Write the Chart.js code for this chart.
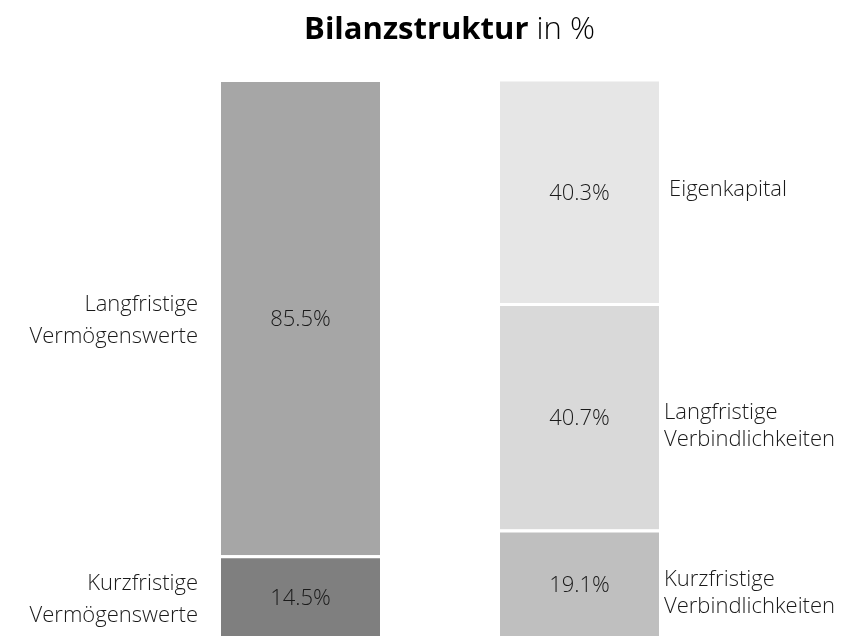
<!DOCTYPE html>
<html>
<head>
<meta charset="utf-8">
<script src="https://cdn.jsdelivr.net/npm/chart.js@4"></script>
<style>
  body { margin: 0; background: #fff; }
  #wrap { width: 859px; height: 636px; position: relative; }
</style>
</head>
<body>
<div id="wrap"><canvas id="bilanz"></canvas></div>
<script>
const kategorien = ['Aktiva', 'Passiva'];
const segmente = ['Kurzfristige Vermögenswerte', 'Langfristige Vermögenswerte',
                  'Kurzfristige Verbindlichkeiten', 'Langfristige Verbindlichkeiten', 'Eigenkapital'];
const aktiva = [14.5, 85.5];
const passiva = [19.1, 40.7, 40.3];
const farben = ['#7f7f7f', '#a6a6a6', '#bfbfbf', '#d9d9d9', '#e6e6e6'];
const beschriftungen = [
  ['Kurzfristige', 'Vermögenswerte'],
  ['Langfristige', 'Vermögenswerte'],
  ['Kurzfristige', 'Verbindlichkeiten'],
  ['Langfristige', 'Verbindlichkeiten'],
  ['Eigenkapital']
];

const werte = [
  [aktiva[0], null],
  [aktiva[1], null],
  [null, passiva[0]],
  [null, passiva[1]],
  [null, passiva[2]]
];

const schrift = '"Open Sans", "Noto Sans", sans-serif';

// Titel, Werte und Seitenbeschriftungen
const textPlugin = {
  id: 'texte',
  afterDatasetsDraw(chart) {
    const ctx = chart.ctx;
    ctx.save();
    ctx.textBaseline = 'alphabetic';
    // Titel: fetter Teil + normaler Teil
    const t1 = 'Bilanzstruktur', t2 = ' in %';
    ctx.font = 'bold 31px ' + schrift;
    const w1 = ctx.measureText(t1).width;
    ctx.font = '300 31px ' + schrift;
    const w2 = ctx.measureText(t2).width;
    const x0 = chart.width / 2 + 20 - (w1 + w2) / 2;
    ctx.fillStyle = '#000';
    ctx.textAlign = 'left';
    ctx.font = 'bold 31px ' + schrift;
    ctx.fillText(t1, x0, 39);
    ctx.font = '300 31px ' + schrift;
    ctx.fillText(t2, x0 + w1, 39);

    chart.data.datasets.forEach((ds, i) => {
      const meta = chart.getDatasetMeta(i);
      meta.data.forEach((bar, j) => {
        if (ds.data[j] == null) return;
        const mitte = (bar.y + bar.base) / 2;
        ctx.font = '300 22px ' + schrift;
        ctx.fillStyle = '#1a1a1a';
        ctx.textAlign = 'center';
        ctx.fillText(ds.data[j].toFixed(1) + '%', bar.x, mitte + 9);
        const zeilen = beschriftungen[i];
        if (j === 0) {
          ctx.textAlign = 'right';
          zeilen.forEach((z, k) => ctx.fillText(z, bar.x - bar.width / 2 - 23, mitte - 6 + k * 32));
        } else {
          ctx.textAlign = 'left';
          const einzeln = zeilen.length === 1;
          const start = einzeln ? mitte + 5 : mitte + 3;
          const xl = bar.x + bar.width / 2 + (einzeln ? 10 : 5);
          zeilen.forEach((z, k) => ctx.fillText(z, xl, start + k * 27));
        }
      });
    });
    ctx.restore();
  }
};

new Chart(document.getElementById('bilanz'), {
  type: 'bar',
  data: {
    labels: kategorien,
    datasets: segmente.map((s, i) => ({
      label: s,
      data: werte[i],
      backgroundColor: farben[i],
      borderColor: '#ffffff',
      borderWidth: { top: 3, left: 0, right: 0, bottom: 0 },
      borderSkipped: false,
      barPercentage: 0.57,
      categoryPercentage: 1
    }))
  },
  options: {
    responsive: true,
    maintainAspectRatio: false,
    animation: false,
    layout: { padding: { top: 79, left: 161, right: 140, bottom: 0 } },
    scales: {
      x: { stacked: true, display: false },
      y: { stacked: true, display: false, min: 0, max: 100 }
    },
    plugins: {
      legend: { display: false },
      tooltip: { enabled: false }
    }
  },
  plugins: [textPlugin]
});
</script>
</body>
</html>
